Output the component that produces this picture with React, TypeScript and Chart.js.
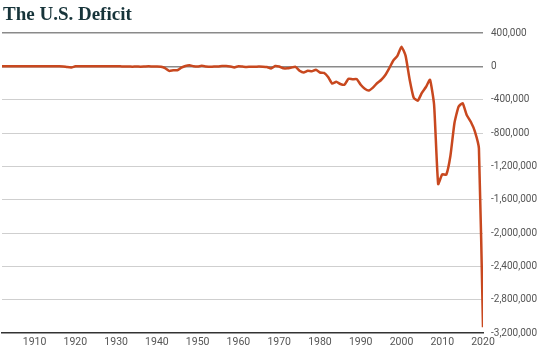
import React, { useEffect, useRef } from "react";
import { Chart, registerables } from "chart.js";

Chart.register(...registerables);

const years: number[] = [];
for (let y = 1902; y <= 2020; y++) years.push(y);

// U.S. federal surplus(+)/deficit(-), millions of dollars, 1902–2020
const deficit: number[] = [
  77, 45, -43, -23, 25, 87, -57, -89, -18, 11, 3, 0, 0, -63, 48, -853, -9032, -13363,
  291, 509, 736, 713, 963, 717, 865, 1155, 939, 734,
  738, -462, -2735, -2602, -3586, -2803, -4304, -2193, -89, -2846,
  -2920, -4941, -20503, -54554, -47557, -47553, -15936, 4018, 11796, 580,
  -3119, 6102, -1519, -6493, -1154, -2993, 3947, 3412, -2769, -12849,
  301, -3335, -7146, -4756, -5915, -1411, -3698, -8643, -25161, 3242,
  -2842, -23033, -23373, -14908, -6135, -53242, -73732, -53659, -59185, -40726,
  -73830, -78968, -127977, -207802, -185367, -212308, -221227, -149730, -155178, -152639,
  -221036, -269238, -290321, -255051, -203186, -163952, -107431, -21884, 69270, 125610,
  236241, 128236, -157758, -377585, -412727, -318346, -248181, -160701, -458553, -1412688,
  -1294373, -1299599, -1076573, -679775, -484602, -441960, -584651, -665446, -779137, -984388,
  -3131917,
];

const xTicks: number[] = [1910, 1920, 1930, 1940, 1950, 1960, 1970, 1980, 1990, 2000, 2010, 2020];
const yMin = -3200000;
const yMax = 400000;
const yStep = 400000;

const TICK_FONT = "Roboto, 'Liberation Sans', sans-serif";

export default function App() {
  const ref = useRef<HTMLCanvasElement | null>(null);

  useEffect(() => {
    document.body.style.margin = "0";
    const canvas = ref.current;
    if (!canvas) return;
    const chart = new Chart(canvas, {
      type: "line",
      data: {
        datasets: [
          {
            data: years.map((y, i) => ({ x: y, y: deficit[i] })),
            borderColor: "#c8481f",
            borderWidth: 2.5,
            pointRadius: 0,
            tension: 0.15,
            fill: false,
          },
        ],
      },
      options: {
        animation: false,
        responsive: false,
        maintainAspectRatio: false,
        layout: { padding: { top: 33, left: 2, right: 2, bottom: 0 } },
        plugins: {
          legend: { display: false },
          tooltip: { enabled: false },
          title: { display: false },
        },
        scales: {
          x: {
            type: "linear",
            min: years[0],
            max: years[years.length - 1],
            afterBuildTicks: (scale: any) => {
              scale.ticks = xTicks.map((v) => ({ value: v }));
            },
            ticks: {
              autoSkip: false,
              maxRotation: 0,
              color: "#555",
              font: { family: TICK_FONT, size: 10.5 },
              padding: 3,
              callback: (v: any) => String(v),
            },
            grid: { display: false, drawTicks: false },
            border: { display: true, color: "#333", width: 1.5 },
            afterFit: (scale: any) => {
              scale.height = 18;
            },
          },
          y: {
            type: "linear",
            position: "right",
            min: yMin,
            max: yMax,
            ticks: {
              stepSize: yStep,
              color: "#555",
              font: { family: TICK_FONT, size: 10 },
              padding: 8,
              callback: (v: any) => Number(v).toLocaleString("en-US"),
            },
            grid: {
              drawTicks: false,
              color: (ctx: any) => {
                const v = ctx.tick?.value;
                if (v === 0 || v === 400000) return "#8a8a8a";
                if (v === yMin) return "rgba(0,0,0,0)";
                return "#cfcfcf";
              },
              lineWidth: (ctx: any) => {
                const v = ctx.tick?.value;
                if (v === 0 || v === 400000) return 1.5;
                return 1;
              },
            },
            border: { display: false },
            afterFit: (scale: any) => {
              scale.width = 55;
            },
          },
        },
      },
    });
    return () => chart.destroy();
  }, []);

  return (
    <div style={{ position: "relative", width: 540, height: 351, background: "#fff" }}>
      <div
        style={{
          position: "absolute",
          left: 3,
          top: 4,
          fontFamily: "'Liberation Serif', 'DejaVu Serif', serif",
          fontWeight: 700,
          fontSize: 19,
          color: "#17343a",
          lineHeight: "20px",
          whiteSpace: "nowrap",
        }}
      >
        The U.S. Deficit
      </div>
      <canvas ref={ref} width={540} height={351} style={{ display: "block" }} />
    </div>
  );
}
